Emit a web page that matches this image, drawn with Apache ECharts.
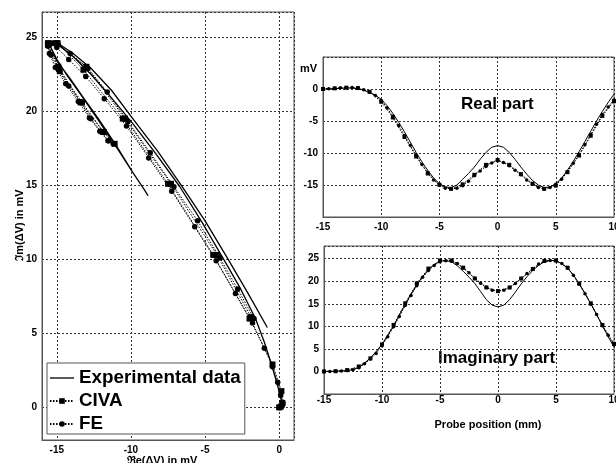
<!DOCTYPE html>
<html>
<head>
<meta charset="utf-8">
<script src="https://cdn.jsdelivr.net/npm/echarts@6/dist/echarts.min.js"></script>
<style>
  html, body { margin: 0; padding: 0; background: #fff; }
  #main { width: 616px; height: 463px; }
</style>
</head>
<body>
<div id="main"></div>
<script>
// probe positions (mm)
var posFine = [-15, -14.5, -14, -13.5, -13, -12.5, -12, -11.5, -11, -10.5, -10, -9.5, -9, -8.5, -8, -7.5, -7, -6.5, -6, -5.5,
  -5, -4.5, -4, -3.5, -3, -2.5, -2, -1.5, -1, -0.5, 0, 0.5, 1, 1.5, 2, 2.5, 3, 3.5, 4, 4.5,
  5, 5.5, 6, 6.5, 7, 7.5, 8, 8.5, 9, 9.5, 10];
var posCiva = [-15, -14, -13, -12, -11, -10, -9, -8, -7, -6, -5, -4, -3, -2, -1, 0, 1, 2, 3, 4, 5, 6, 7, 8, 9, 10];

// experimental data (mV)
var expReal = [0.0, 0.0, 0.05, 0.1, 0.15, 0.15, 0.05, -0.2, -0.55, -1.0, -1.6, -2.6, -3.8, -5.2, -6.7, -8.3, -9.9, -11.4, -12.7, -13.9,
  -14.8, -15.3, -15.4, -15.0, -14.1, -13.2, -12.2, -11.0, -9.9, -9.1, -8.85, -9.1, -9.9, -11.0, -12.2, -13.3, -14.3, -15.0, -15.4, -15.3,
  -14.8, -13.9, -12.7, -11.3, -9.8, -8.2, -6.6, -5.0, -3.5, -2.1, -0.8];
var expImag = [0.0, 0.0, 0.05, 0.1, 0.2, 0.4, 0.9, 1.8, 3.0, 4.4, 6.0, 8.0, 10.1, 12.5, 14.9, 17.1, 19.2, 21.0, 22.5, 23.7,
  24.4, 24.6, 24.3, 23.4, 22.2, 20.9, 19.5, 17.7, 15.9, 14.7, 14.3, 14.7, 15.9, 17.6, 19.4, 21.0, 22.4, 23.5, 24.3, 24.6,
  24.5, 23.9, 22.9, 21.4, 19.4, 17.3, 15.0, 12.6, 10.1, 7.7, 5.4];

// CIVA simulation (mV)
var civaReal = [0.0, 0.1, 0.2, 0.15, -0.45, -2.0, -4.45, -7.5, -10.55, -13.2, -14.95, -15.6, -14.9, -13.4, -11.85, -11.1,
  -11.85, -13.3, -14.8, -15.6, -15.1, -13.0, -10.4, -7.3, -4.2, -1.9];
var civaImag = [0.0, 0.05, 0.3, 1.1, 2.9, 6.0, 10.3, 15.1, 19.5, 22.8, 24.6, 24.6, 23.0, 20.6, 18.6, 17.8,
  18.6, 20.6, 22.7, 24.5, 24.6, 23.0, 19.5, 15.1, 10.3, 6.1];

// FE simulation (mV)
var feReal = [0.0, 0.05, 0.1, 0.2, 0.25, 0.25, 0.1, -0.1, -0.45, -1.0, -1.8, -2.95, -4.25, -5.7, -7.25, -8.8, -10.3, -11.8, -13.05, -14.2,
  -15.0, -15.5, -15.6, -15.5, -15.1, -14.4, -13.55, -12.8, -12.1, -11.55, -11.2, -11.5, -12.0, -12.7, -13.4, -14.2, -14.9, -15.4, -15.6, -15.4,
  -14.9, -14.1, -12.9, -11.6, -10.2, -8.7, -7.1, -5.5, -4.0, -2.8, -1.7];
var feImag = [0.0, 0.0, 0.05, 0.1, 0.2, 0.35, 0.8, 1.7, 2.75, 4.0, 5.7, 7.7, 9.9, 12.2, 14.6, 16.85, 19.0, 20.85, 22.35, 23.5,
  24.3, 24.55, 24.4, 23.9, 22.95, 21.85, 20.65, 19.55, 18.65, 18.0, 17.8, 18.0, 18.6, 19.5, 20.6, 21.7, 22.8, 23.8, 24.4, 24.6,
  24.5, 23.9, 22.9, 21.3, 19.3, 17.2, 14.9, 12.6, 10.1, 8.0, 6.0];

var legendNames = ['Experimental data', 'CIVA', 'FE'];

function pairs(xs, ys) {
  return xs.map(function (x, i) { return [x, ys[i]]; });
}

var FONT = '"Liberation Sans", Arial, sans-serif';
var gridLine = { show: true, lineStyle: { color: '#333', type: [2, 2], width: 1 } };
var axisLine = { show: true, onZero: false, lineStyle: { color: '#555', width: 1 } };

function fiveOnly(v) {
  return (Math.abs(v % 5) < 1e-6) ? String(v) : '';
}

function valAxis(grid, min, max, hideEnds, margin) {
  return {
    type: 'value', gridIndex: grid, min: min, max: max,
    minInterval: 5, maxInterval: 5,
    axisLine: axisLine, axisTick: { show: false },
    splitLine: gridLine,
    axisLabel: {
      color: '#000', fontWeight: 'bold', fontSize: 10, fontFamily: FONT, margin: margin,
      showMinLabel: !hideEnds, showMaxLabel: !hideEnds, formatter: fiveOnly
    }
  };
}

function simSeries(name, kind, xi, data, size) {
  return {
    name: name, type: 'line', xAxisIndex: xi, yAxisIndex: xi, data: data,
    symbol: kind, symbolSize: size, showSymbol: true,
    lineStyle: { color: '#000', width: 1, type: [1.5, 1.5] },
    itemStyle: { color: '#000' },
    animation: false
  };
}

function expSeries(xi, data, width) {
  return {
    name: legendNames[0], type: 'line', xAxisIndex: xi, yAxisIndex: xi, data: data,
    symbol: 'none', lineStyle: { color: '#000', width: width }, itemStyle: { color: '#000' },
    animation: false
  };
}

var chart = echarts.init(document.getElementById('main'));

var option = {
  animation: false,
  backgroundColor: '#fff',
  textStyle: { fontFamily: FONT },
  grid: [
    { left: 42, top: 12, width: 252, height: 428, show: true, borderColor: '#555', borderWidth: 1, outerBoundsMode: 'none', containLabel: false },
    { left: 323, top: 57, width: 291, height: 160, show: true, borderColor: '#555', borderWidth: 1, outerBoundsMode: 'none', containLabel: false },
    { left: 324, top: 246, width: 290, height: 148, show: true, borderColor: '#555', borderWidth: 1, outerBoundsMode: 'none', containLabel: false }
  ],
  xAxis: [
    valAxis(0, -16, 1, true, 5),
    valAxis(1, -15, 10, false, 5),
    valAxis(2, -15, 10, false, 1)
  ],
  yAxis: [
    valAxis(0, -2.2, 26.7, true, 5),
    valAxis(1, -20, 5, true, 5),
    valAxis(2, -5, 27.8, true, 5)
  ],
  legend: {
    data: [
      { name: legendNames[0], icon: 'path://M0,0L24,0L24,1.3L0,1.3Z' },
      { name: legendNames[1] },
      { name: legendNames[2] }
    ],
    orient: 'vertical',
    left: 47, top: 363,
    backgroundColor: '#fff',
    borderColor: '#555', borderWidth: 1, borderRadius: 0,
    padding: [5, 4, 0, 2],
    itemGap: 3, itemWidth: 24, itemHeight: 7,
    textStyle: { color: '#000', fontSize: 18.8, fontWeight: 'bold', fontFamily: FONT, lineHeight: 20 },
    selectedMode: false
  },
  graphic: [
    { type: 'text', x: 20, y: 225, rotation: Math.PI / 2,
      style: { text: '\u2111m(\u0394V) in mV', font: 'bold 11px ' + FONT, fill: '#000', align: 'center', verticalAlign: 'middle' } },
    { type: 'text', x: 162, y: 461,
      style: { text: '\u211Ce(\u0394V) in mV', font: 'bold 11px ' + FONT, fill: '#000', align: 'center', verticalAlign: 'middle' } },
    { type: 'text', x: 300, y: 69,
      style: { text: 'mV', font: 'bold 11px ' + FONT, fill: '#000', align: 'left', verticalAlign: 'middle' } },
    { type: 'text', x: 461, y: 104,
      style: { text: 'Real part', font: 'bold 17px ' + FONT, fill: '#000', align: 'left', verticalAlign: 'middle' } },
    { type: 'text', x: 438, y: 358,
      style: { text: 'Imaginary part', font: 'bold 17px ' + FONT, fill: '#000', align: 'left', verticalAlign: 'middle' } },
    { type: 'text', x: 488, y: 425,
      style: { text: 'Probe position (mm)', font: 'bold 11px ' + FONT, fill: '#000', align: 'center', verticalAlign: 'middle' } }
  ],
  series: [
    expSeries(0, pairs(expReal, expImag), 1.3),
    simSeries(legendNames[1], 'rect', 0, pairs(civaReal, civaImag), 6),
    simSeries(legendNames[2], 'circle', 0, pairs(feReal, feImag), 5.5),

    expSeries(1, pairs(posFine, expReal), 1),
    simSeries(legendNames[1], 'rect', 1, pairs(posCiva, civaReal), 4),
    simSeries(legendNames[2], 'circle', 1, pairs(posFine, feReal), 3.5),

    expSeries(2, pairs(posFine, expImag), 1),
    simSeries(legendNames[1], 'rect', 2, pairs(posCiva, civaImag), 4),
    simSeries(legendNames[2], 'circle', 2, pairs(posFine, feImag), 3.5)
  ]
};

chart.setOption(option);
</script>
</body>
</html>
